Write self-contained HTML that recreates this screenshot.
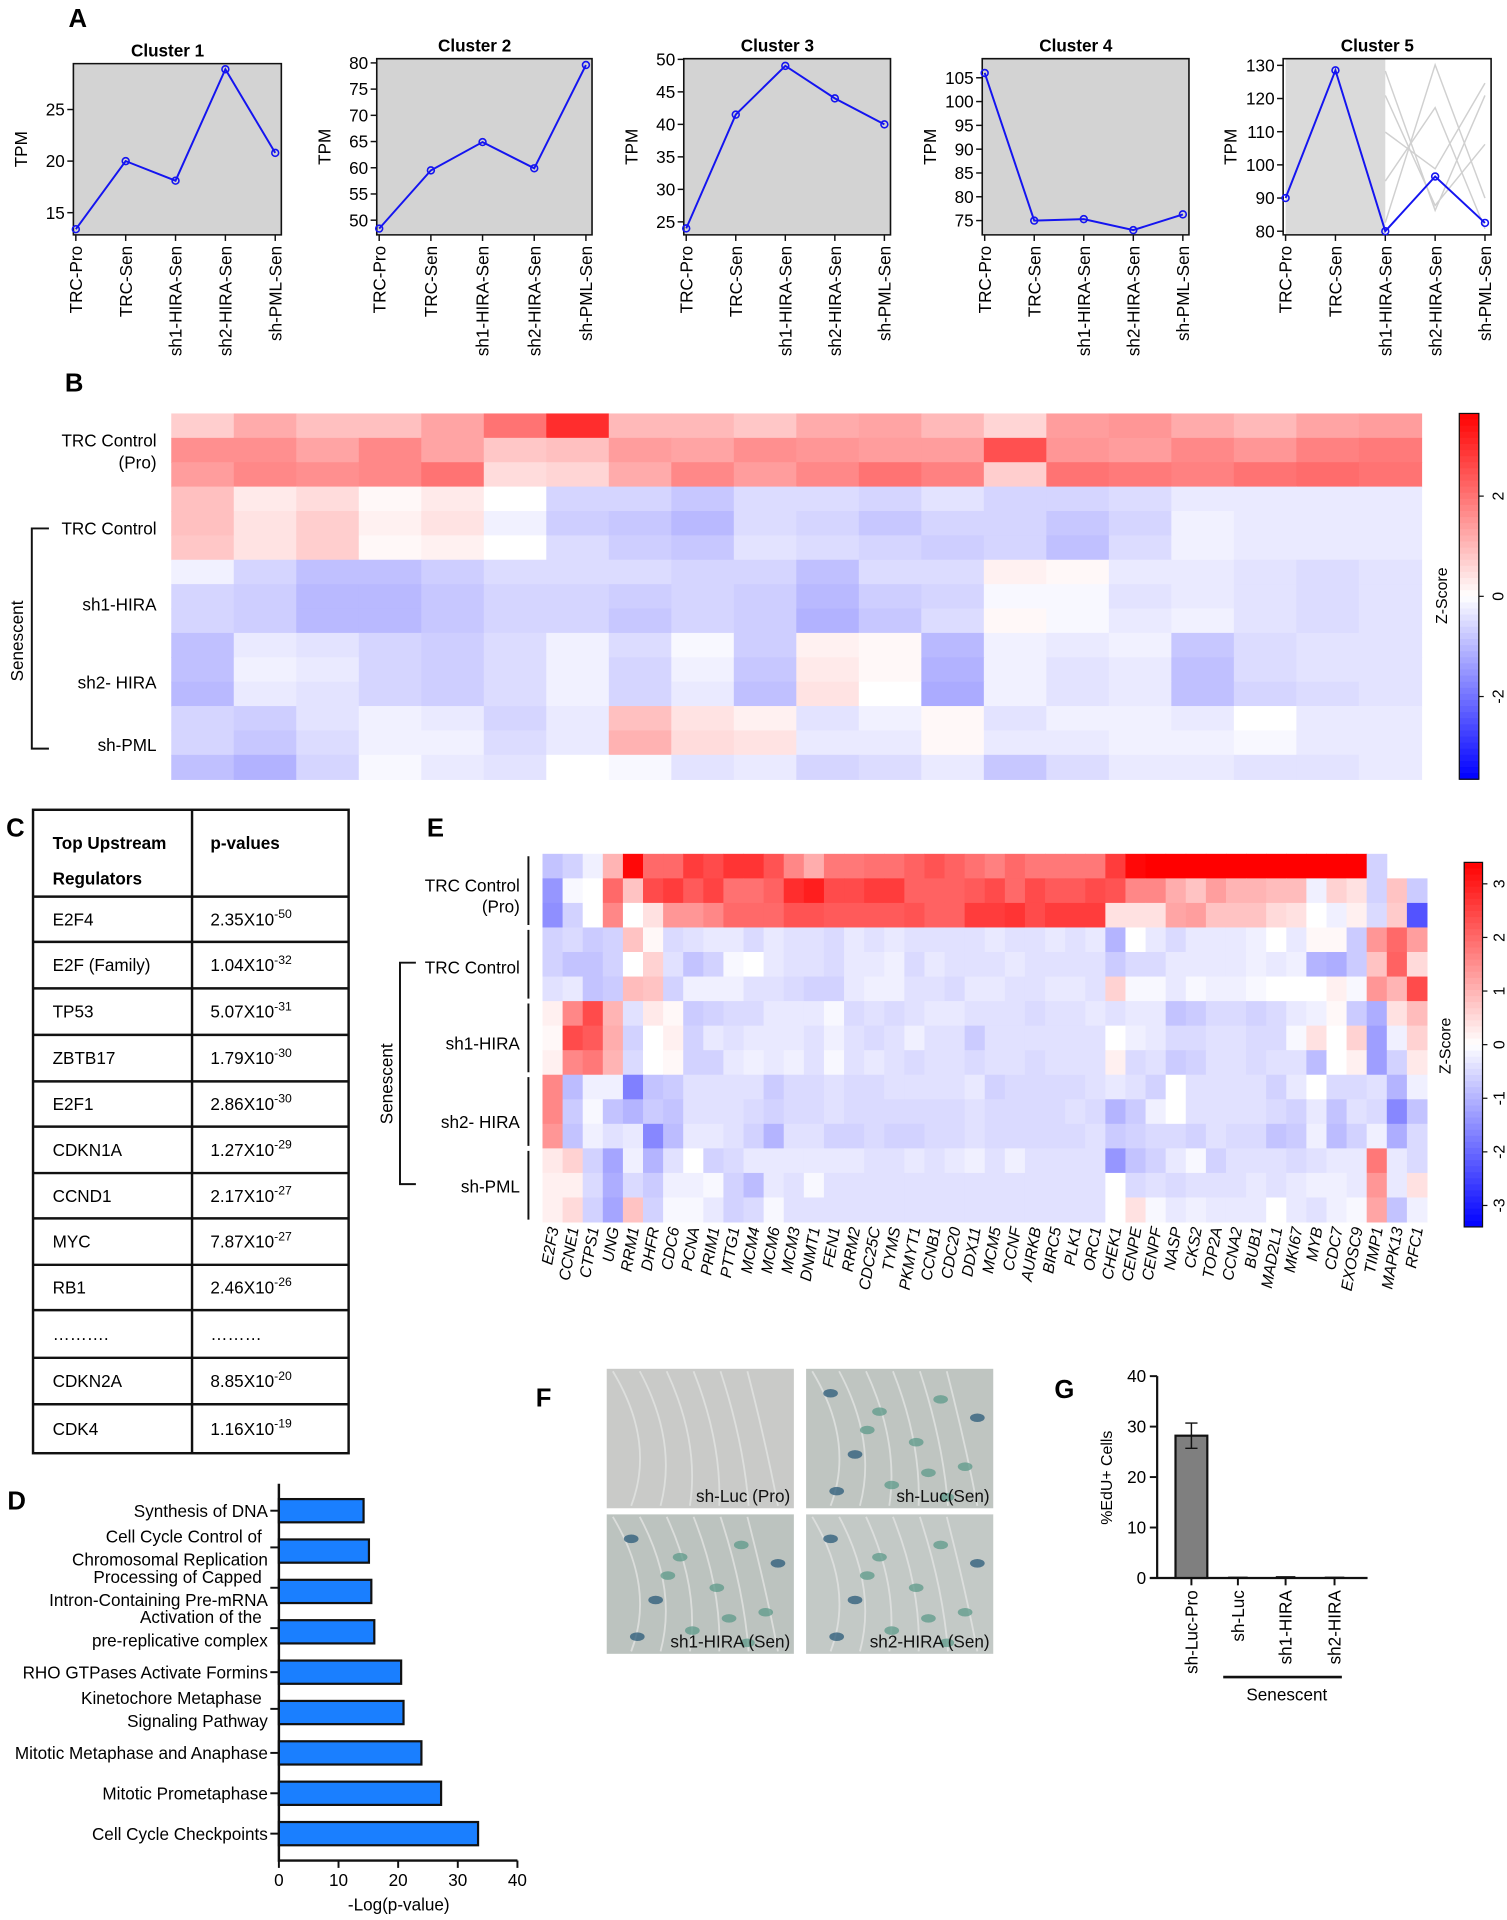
<!DOCTYPE html>
<html><head><meta charset="utf-8"><title>Figure</title>
<style>
html,body{margin:0;padding:0;background:#fff;}
svg{display:block;font-family:"Liberation Sans",Arial,sans-serif;}
.lab{font-weight:bold;font-size:21px;}
</style></head>
<body>
<svg id="fig" xmlns="http://www.w3.org/2000/svg" width="1507" height="1920" viewBox="0 0 1232 1569.6" preserveAspectRatio="none">
<text class="lab" x="56" y="22">A</text>
<text class="lab" x="53" y="320">B</text>
<text class="lab" x="5" y="684">C</text>
<text class="lab" x="349" y="684">E</text>
<text class="lab" x="6" y="1234">D</text>
<text class="lab" x="438" y="1150">F</text>
<text class="lab" x="862" y="1143">G</text>
<g id="gA"></g>
<g id="gB"></g>
<g id="gC"></g>
<g id="gE"></g>
<g id="gD"></g>
<g id="gF"></g>
<g id="gG"></g>
</svg>
<script>
// ---------- DATA ----------
const aCategories = ['TRC-Pro','TRC-Sen','sh1-HIRA-Sen','sh2-HIRA-Sen','sh-PML-Sen'];
const cluster1Values = [13.4, 20.0, 18.1, 28.9, 20.8];
const cluster2Values = [48.4, 59.5, 64.9, 59.9, 79.6];
const cluster3Values = [24.0, 41.5, 49.0, 44.0, 40.0];
const cluster4Values = [106.0, 75.0, 75.3, 73.0, 76.3];
const cluster5Values = [90.0, 128.5, 80.0, 96.5, 82.5];
const cluster1Ticks = [15, 20, 25];
const cluster2Ticks = [50, 55, 60, 65, 70, 75, 80];
const cluster3Ticks = [25, 30, 35, 40, 45, 50];
const cluster4Ticks = [75, 80, 85, 90, 95, 100, 105];
const cluster5Ticks = [80, 90, 100, 110, 120, 130];

const bRowLabels = ['TRC Control (Pro)','TRC Control','sh1-HIRA','sh2- HIRA','sh-PML'];
const heatBValues = [
[0.7,1.2,0.9,0.9,1.3,2.0,3.0,1.0,1.0,0.8,1.2,1.3,1.0,0.6,1.4,1.5,1.2,1.0,1.3,1.4],
[1.6,1.6,1.3,1.7,1.3,0.8,0.9,1.4,1.3,1.6,1.5,1.4,1.4,2.5,1.5,1.4,1.7,1.5,1.8,1.9],
[1.4,1.7,1.6,1.7,2.0,0.5,0.6,1.2,1.7,1.4,1.7,2.0,1.8,0.7,2.0,1.9,1.8,2.0,2.1,2.0],
[0.9,0.3,0.5,0.1,0.3,0.0,-0.6,-0.6,-0.8,-0.5,-0.5,-0.6,-0.4,-0.6,-0.6,-0.5,-0.3,-0.3,-0.3,-0.3],
[0.9,0.4,0.7,0.2,0.4,-0.2,-0.7,-0.8,-1.0,-0.5,-0.6,-0.8,-0.6,-0.6,-0.8,-0.6,-0.2,-0.3,-0.3,-0.3],
[0.8,0.4,0.7,0.1,0.2,0.0,-0.5,-0.7,-0.8,-0.4,-0.5,-0.6,-0.7,-0.6,-0.9,-0.5,-0.2,-0.3,-0.3,-0.3],
[-0.2,-0.6,-0.9,-0.9,-0.7,-0.5,-0.5,-0.5,-0.6,-0.6,-0.9,-0.5,-0.5,0.2,0.1,-0.3,-0.3,-0.4,-0.5,-0.4],
[-0.6,-0.7,-1.0,-1.0,-0.8,-0.6,-0.6,-0.7,-0.6,-0.7,-1.0,-0.7,-0.6,-0.1,-0.1,-0.4,-0.3,-0.4,-0.5,-0.4],
[-0.6,-0.7,-1.0,-1.0,-0.8,-0.6,-0.6,-0.8,-0.6,-0.7,-1.1,-0.8,-0.5,0.1,-0.1,-0.3,-0.2,-0.4,-0.5,-0.4],
[-0.9,-0.3,-0.4,-0.6,-0.7,-0.5,-0.2,-0.5,-0.1,-0.7,0.2,0.1,-1.0,-0.2,-0.3,-0.2,-0.8,-0.5,-0.4,-0.4],
[-0.9,-0.2,-0.3,-0.6,-0.7,-0.5,-0.2,-0.6,-0.2,-0.8,0.3,0.1,-1.1,-0.2,-0.4,-0.3,-0.9,-0.5,-0.4,-0.4],
[-1.0,-0.3,-0.4,-0.6,-0.7,-0.5,-0.2,-0.6,-0.3,-0.9,0.4,0.0,-1.2,-0.2,-0.4,-0.3,-0.9,-0.6,-0.5,-0.4],
[-0.6,-0.7,-0.4,-0.2,-0.3,-0.6,-0.3,0.9,0.4,0.2,-0.4,-0.2,0.1,-0.4,-0.2,-0.2,-0.3,0.0,-0.3,-0.3],
[-0.6,-0.8,-0.5,-0.2,-0.2,-0.5,-0.3,1.1,0.5,0.4,-0.3,-0.3,0.1,-0.3,-0.3,-0.2,-0.2,-0.1,-0.3,-0.3],
[-0.9,-1.1,-0.6,-0.1,-0.3,-0.4,0.0,-0.1,-0.4,-0.3,-0.6,-0.5,-0.3,-0.8,-0.5,-0.3,-0.3,-0.4,-0.4,-0.3]
];
const bColorTicks = [2, 0, -2];

const tableRegulators = ['E2F4','E2F (Family)','TP53','ZBTB17','E2F1','CDKN1A','CCND1','MYC','RB1','……….','CDKN2A','CDK4'];
const tableMantissa = ['2.35','1.04','5.07','1.79','2.86','1.27','2.17','7.87','2.46','………','8.85','1.16'];
const tableExponent = ['-50','-32','-31','-30','-30','-29','-27','-27','-26','','-20','-19'];

const eGenes = ['E2F3','CCNE1','CTPS1','UNG','RRM1','DHFR','CDC6','PCNA','PRIM1','PTTG1','MCM4','MCM6','MCM3','DNMT1','FEN1','RRM2','CDC25C','TYMS','PKMYT1','CCNB1','CDC20','DDX11','MCM5','CCNF','AURKB','BIRC5','PLK1','ORC1','CHEK1','CENPE','CENPF','NASP','CKS2','TOP2A','CCNA2','BUB1','MAD2L1','MKI67','MYB','CDC7','EXOSC9','TIMP1','MAPK13','RFC1'];
const heatEValues = [
[-0.8,-0.6,-0.2,1.0,3.3,2.0,2.0,2.6,2.4,2.7,2.7,2.3,1.6,1.1,1.8,1.8,1.9,1.9,2.1,2.3,2.1,1.9,1.7,2.0,1.8,1.8,1.8,1.8,2.6,3.3,3.5,3.5,3.5,3.5,3.5,3.5,3.5,3.5,3.5,3.5,3.5,-0.6,0,0],
[-1.4,-0.1,0,2.0,0.8,2.4,2.6,2.2,2.5,1.9,1.9,2.1,2.8,3.0,2.4,2.4,2.6,2.6,2.1,2.1,2.1,2.2,2.4,2.0,2.4,2.2,2.2,2.4,2.3,1.6,1.6,1.1,0.8,1.3,1.0,1.0,0.9,0.9,-0.2,0.6,0.4,-0.6,0.8,-0.7],
[-1.5,-0.6,0,1.6,0,0.4,1.4,1.4,1.6,2.0,2.0,2.0,2.3,2.3,2.2,2.2,2.2,2.2,2.3,2.1,2.1,2.6,2.6,2.7,2.4,2.6,2.6,2.6,0.4,0.4,0.4,1.2,1.3,0.8,0.8,0.8,0.5,0.4,0,-0.2,0.2,-0.5,0.7,-2.3],
[-0.6,-0.5,-0.7,-0.6,0.8,0.1,-0.5,-0.4,-0.3,-0.3,-0.5,-0.3,-0.4,-0.4,-0.5,-0.3,-0.4,-0.3,-0.4,-0.4,-0.4,-0.4,-0.3,-0.4,-0.4,-0.3,-0.4,-0.3,-1.0,0,-0.3,-0.5,-0.3,-0.3,-0.3,-0.2,0,-0.3,0.1,0.1,-0.7,1.4,2.0,1.3],
[-0.6,-0.8,-0.8,-0.6,0,0.6,-0.4,-0.8,-0.6,-0.1,0,-0.3,-0.4,-0.4,-0.5,-0.3,-0.3,-0.2,-0.5,-0.3,-0.4,-0.4,-0.4,-0.3,-0.4,-0.4,-0.4,-0.4,-0.7,-0.5,-0.5,-0.3,-0.3,-0.3,-0.3,-0.2,-0.3,-0.2,-1.0,-1.1,-0.7,0.8,2.1,0.5],
[-0.4,-0.3,-0.8,-0.7,0.9,0.8,-0.6,-0.2,-0.2,-0.2,-0.4,-0.4,-0.5,-0.6,-0.6,-0.3,-0.2,-0.2,-0.4,-0.4,-0.5,-0.3,-0.3,-0.4,-0.4,-0.3,-0.3,-0.4,0.6,-0.1,-0.1,-0.3,-0.1,-0.2,-0.2,-0.1,0,0,0,0.2,-0.1,1.4,1.0,2.4],
[0.2,1.6,2.4,1.0,-0.4,0.3,0.1,-0.7,-0.6,-0.5,-0.5,-0.3,-0.3,-0.3,-0.1,-0.5,-0.4,-0.5,-0.4,-0.3,-0.3,-0.4,-0.4,-0.4,-0.5,-0.4,-0.4,-0.3,-0.4,-0.3,-0.3,-0.8,-0.7,-0.5,-0.5,-0.6,-0.5,-0.3,-0.2,0.1,-0.7,-1.1,0.4,0.9],
[0.1,2.4,2.2,1.1,-0.6,0,0.2,-0.6,-0.3,-0.4,-0.3,-0.3,-0.3,-0.4,-0.2,-0.4,-0.5,-0.4,-0.2,-0.4,-0.4,-0.7,-0.4,-0.4,-0.4,-0.4,-0.4,-0.4,0,-0.2,-0.3,-0.5,-0.5,-0.4,-0.4,-0.5,-0.5,-0.1,0.4,0,0.6,-1.3,-0.2,0.6],
[0.2,1.6,1.8,1.0,-0.5,0,0.1,-0.6,-0.6,-0.3,-0.2,-0.3,-0.2,-0.4,-0.1,-0.4,-0.3,-0.4,-0.5,-0.4,-0.4,-0.5,-0.4,-0.4,-0.5,-0.4,-0.4,-0.4,0.2,-0.5,-0.4,-0.7,-0.6,-0.4,-0.4,-0.5,-0.4,-0.4,-0.9,0,0.2,-1.3,-0.6,0.3],
[1.6,-0.9,-0.2,-0.2,-1.7,-0.8,-0.7,-0.4,-0.4,-0.4,-0.4,-0.7,-0.5,-0.5,-0.4,-0.5,-0.5,-0.4,-0.4,-0.4,-0.4,-0.3,-0.6,-0.5,-0.5,-0.5,-0.5,-0.4,-0.3,-0.4,-0.6,0,-0.4,-0.4,-0.4,-0.4,-0.6,-0.3,0,-0.5,-0.5,-0.4,-1.0,-0.2],
[1.6,-0.7,-0.1,-0.8,-1.0,-0.7,-0.8,-0.4,-0.4,-0.4,-0.5,-0.6,-0.5,-0.5,-0.4,-0.5,-0.5,-0.5,-0.5,-0.5,-0.5,-0.4,-0.5,-0.5,-0.5,-0.5,-0.4,-0.5,-1.0,-0.7,-0.2,0,-0.4,-0.4,-0.4,-0.4,-0.5,-0.6,-0.3,-0.8,-0.4,-0.5,-1.6,-0.8],
[1.4,-0.8,-0.2,-0.4,-0.3,-1.6,-0.9,-0.3,-0.3,-0.4,-0.6,-1.0,-0.4,-0.4,-0.6,-0.6,-0.5,-0.6,-0.6,-0.5,-0.5,-0.4,-0.5,-0.5,-0.5,-0.5,-0.5,-0.4,-0.7,-0.6,-0.5,-0.5,-0.6,-0.4,-0.5,-0.5,-0.8,-0.7,-0.2,-0.9,-0.6,-0.2,-1.1,-0.5],
[0.3,0.6,-0.6,-1.2,-0.2,-1.0,-0.4,0,-0.6,-0.5,-0.3,-0.3,-0.3,-0.3,-0.3,-0.3,-0.4,-0.4,-0.3,-0.4,-0.3,-0.2,-0.4,-0.2,-0.4,-0.4,-0.4,-0.4,-1.4,-0.8,-0.6,-0.3,-0.1,-0.6,-0.4,-0.4,-0.4,-0.5,-0.4,-0.3,-0.3,1.8,-0.3,-0.5],
[0.2,0.2,-0.5,-1.1,-0.5,-0.7,-0.2,-0.2,-0.1,-0.6,-0.9,-0.3,-0.4,-0.1,-0.4,-0.4,-0.4,-0.4,-0.4,-0.4,-0.4,-0.4,-0.4,-0.4,-0.4,-0.4,-0.4,-0.4,0,-0.5,-0.4,-0.5,-0.4,-0.4,-0.4,-0.3,-0.4,-0.3,-0.2,-0.2,-0.3,1.4,-0.3,0.4],
[0.2,0.5,-0.6,-1.2,0.8,-0.6,-0.1,-0.1,-0.3,-0.6,-0.5,-0.1,-0.4,-0.4,-0.4,-0.4,-0.4,-0.4,-0.4,-0.4,-0.4,-0.4,-0.4,-0.4,-0.4,-0.4,-0.4,-0.4,0,0.4,-0.1,-0.3,-0.2,-0.3,-0.3,-0.3,0,-0.3,-0.4,-0.2,-0.1,1.2,-0.8,-0.2]
];
const eColorTicks = [3, 2, 1, 0, -1, -2, -3];

const dPathways = [['Synthesis of DNA'],['Cell Cycle Control of','Chromosomal Replication'],['Processing of Capped','Intron-Containing Pre-mRNA'],['Activation of the','pre-replicative complex'],['RHO GTPases Activate Formins'],['Kinetochore Metaphase','Signaling Pathway'],['Mitotic Metaphase and Anaphase'],['Mitotic Prometaphase'],['Cell Cycle Checkpoints']];
const dValues = [14.2, 15.1, 15.5, 16.0, 20.5, 20.9, 23.9, 27.2, 33.4];
const dTicks = [0, 10, 20, 30, 40];

const gCategories = ['sh-Luc-Pro','sh-Luc','sh1-HIRA','sh2-HIRA'];
const gValues = [28.2, 0, 0.1, 0];
const gErrors = [2.5, 0, 0, 0];
const gTicks = [0, 10, 20, 30, 40];

// ---------- HELPERS ----------
const NS = 'http://www.w3.org/2000/svg';
function mk(parent, tag, attrs, txt){
  const e = document.createElementNS(NS, tag);
  for (const k in attrs) e.setAttribute(k, attrs[k]);
  if (txt !== undefined) e.textContent = txt;
  parent.appendChild(e);
  return e;
}
function zColor(z, zmax){
  let t = Math.max(-1, Math.min(1, z / zmax));
  let r, g, b;
  if (t >= 0){ r = 255; g = Math.round(255*(1-t)); b = g; }
  else { b = 255; r = Math.round(255*(1+t)); g = r; }
  return 'rgb('+r+','+g+','+b+')';
}

// ---------- A: cluster panels ----------
(function(){
  const g = document.getElementById('gA');
  const panels = [
    {name:'Cluster 1', vals:cluster1Values, ticks:cluster1Ticks, box:[60,52,230,192], lo:12.85, hi:29.45, bg:'#d3d3d3'},
    {name:'Cluster 2', vals:cluster2Values, ticks:cluster2Ticks, box:[308,48,484,192], lo:47.2, hi:80.8, bg:'#d3d3d3'},
    {name:'Cluster 3', vals:cluster3Values, ticks:cluster3Ticks, box:[559,48,728,192], lo:23.0, hi:50.1, bg:'#d3d3d3'},
    {name:'Cluster 4', vals:cluster4Values, ticks:cluster4Ticks, box:[803,48,972,192], lo:72.0, hi:109.0, bg:'#d3d3d3'},
    {name:'Cluster 5', vals:cluster5Values, ticks:cluster5Ticks, box:[1049,48,1219,192], lo:78.9, hi:132.0, bg:'#ffffff'}
  ];
  panels.forEach((p, pi) => {
    const [x0,y0,x1,y1] = p.box;
    const pg = mk(g,'g',{});
    
    
    const bg = mk(pg,'rect',{x:x0,y:y0,width:x1-x0,height:y1-y0,fill:p.bg});
    
    
    const px = i => x0 + 2 + i*((x1-x0-7)/(aCategories.length-1));
    const py = v => y1 - (v - p.lo)/(p.hi - p.lo)*(y1-y0);
    if (pi === 4){
      const sh = mk(pg,'rect',{x:x0+2,y:y0,width:px(2)-x0-2,height:y1-y0,fill:'#dadada'});
      
      
      const paths = ['M'+px(2)+' '+(y0+10)+' L'+px(3)+' '+(y1-20)+' L'+px(4)+' '+(y0+30),
                     'M'+px(2)+' '+(y1-10)+' L'+px(3)+' '+(y0+5)+' L'+px(4)+' '+(y1-30),
                     'M'+px(2)+' '+(y0+60)+' L'+px(3)+' '+(y0+90)+' L'+px(4)+' '+(y0+20),
                     'M'+px(2)+' '+(y0+100)+' L'+px(3)+' '+(y0+40)+' L'+px(4)+' '+(y1-5),
                     'M'+px(2)+' '+(y0+30)+' L'+px(3)+' '+(y0+120)+' L'+px(4)+' '+(y0+70)];
      paths.forEach(d => {
        const l = mk(pg,'path',{d:d,fill:'none',stroke:'#d0d0d0','stroke-width':1.2});
        
        
      });
    }
    const frame = mk(pg,'path',{d:'M'+x0+' '+y0+' H'+x1+' V'+y1+' H'+x0+' Z',fill:'none',stroke:'#111','stroke-width':1.3});
    
    
    const t = mk(pg,'text',{x:(x0+x1)/2 - 8,y:y0-6,'text-anchor':'middle','font-size':14,'font-weight':'bold'}, p.name);
    
    
    const yl = mk(pg,'text',{transform:'translate('+(x0-38)+','+((y0+y1)/2)+') rotate(-90)','text-anchor':'middle','font-size':14}, 'TPM');
    
    
    p.ticks.forEach(v => {
      const y = py(v);
      const tk = mk(pg,'line',{x1:x0-5,x2:x0,y1:y,y2:y,stroke:'#111','stroke-width':1.2});
      
      
      const tl = mk(pg,'text',{x:x0-7,y:y+5,'text-anchor':'end','font-size':14}, String(v));
      
      
    });
    aCategories.forEach((c, i) => {
      const x = px(i);
      const tk = mk(pg,'line',{x1:x,x2:x,y1:y1,y2:y1+5,stroke:'#111','stroke-width':1.2});
      
      
      const tl = mk(pg,'text',{transform:'translate('+(x+5)+','+(y1+9)+') rotate(-90)','text-anchor':'end','font-size':14}, c);
      
      
    });
    const pts = p.vals.map((v,i) => px(i)+','+py(v)).join(' ');
    const line = mk(pg,'polyline',{points:pts,fill:'none',stroke:'#1414f0','stroke-width':1.6});
    
    
    p.vals.forEach((v,i) => {
      const c = mk(pg,'circle',{cx:px(i),cy:py(v),r:2.8,fill:'none',stroke:'#1414f0','stroke-width':1.3});
      
      
    });
  });
})();

// ---------- B: big heatmap ----------
(function(){
  const g = document.getElementById('gB');
  const x0 = 140, x1 = 1162, y0 = 338, y1 = 637;
  const nR = heatBValues.length, nC = heatBValues[0].length;
  const cw = (x1-x0)/nC, rh = (y1-y0)/nR;
  heatBValues.forEach((row, r) => row.forEach((v, c) => {
    const cell = mk(g,'rect',{x:x0+c*cw,y:y0+r*rh,width:cw+0.6,height:rh+0.6,fill:zColor(v,3.65)});
    
    
  }));
  const labs = [['TRC Control',365],['(Pro)',383],['TRC Control',437],['sh1-HIRA',499],['sh2- HIRA',563],['sh-PML',614]];
  labs.forEach(l => {
    const t = mk(g,'text',{x:128,y:l[1],'text-anchor':'end','font-size':14}, l[0]);
    
    
  });
  const br = mk(g,'path',{d:'M40 432 H26 V612 H40',fill:'none',stroke:'#111','stroke-width':1.6});
  
  
  const sen = mk(g,'text',{transform:'translate(19,524) rotate(-90)','text-anchor':'middle','font-size':14}, 'Senescent');
  
  
  const cb0 = 338, cb1 = 637, cbx = 1193, cbw = 16, zm = 3.65;
  const steps = 60;
  for (let i = 0; i < steps; i++){
    const z = zm - (i+0.5)*(2*zm/steps);
    const s = mk(g,'rect',{x:cbx,y:cb0+i*(cb1-cb0)/steps,width:cbw,height:(cb1-cb0)/steps+0.5,fill:zColor(z,zm)});
    
    
  }
  const fr = mk(g,'rect',{x:cbx,y:cb0,width:cbw,height:cb1-cb0,fill:'none',stroke:'#111','stroke-width':1});
  
  
  bColorTicks.forEach(v => {
    const y = cb0 + (zm - v)/(2*zm)*(cb1-cb0);
    const tk = mk(g,'line',{x1:cbx+cbw,x2:cbx+cbw+4,y1:y,y2:y,stroke:'#111'});
    
    
    const tl = mk(g,'text',{transform:'translate('+(cbx+cbw+20)+','+y+') rotate(-90)','text-anchor':'middle','font-size':13}, String(v));
    
    
  });
  const zt = mk(g,'text',{transform:'translate(1183,487) rotate(-90)','text-anchor':'middle','font-size':13}, 'Z-Score');
  
  
})();

// ---------- C: table ----------
(function(){
  const g = document.getElementById('gC');
  const x0 = 27, xm = 157, x1 = 285;
  const ys = [662,733,770,808,846,884,921,959,996,1034,1071,1110,1148,1188];
  const fr = mk(g,'rect',{x:x0,y:ys[0],width:x1-x0,height:ys[ys.length-1]-ys[0],fill:'none',stroke:'#111','stroke-width':2});
  
  
  const vl = mk(g,'line',{x1:xm,x2:xm,y1:ys[0],y2:ys[ys.length-1],stroke:'#111','stroke-width':2});
  
  
  ys.slice(1,-1).forEach(y => {
    const l = mk(g,'line',{x1:x0,x2:x1,y1:y,y2:y,stroke:'#111','stroke-width':2});
    
    
  });
  const h1 = mk(g,'text',{x:43,y:694,'font-size':14,'font-weight':'bold'}, 'Top Upstream');
  
  
  const h2 = mk(g,'text',{x:43,y:723,'font-size':14,'font-weight':'bold'}, 'Regulators');
  
  
  const h3 = mk(g,'text',{x:172,y:694,'font-size':14,'font-weight':'bold'}, 'p-values');
  
  
  tableRegulators.forEach((r, i) => {
    const yc = (ys[i+1] + ys[i+2])/2 + 5;
    const a = mk(g,'text',{x:43,y:yc,'font-size':14}, r);
    
    
    const b = mk(g,'text',{x:172,y:yc,'font-size':14}, tableExponent[i] ? tableMantissa[i] + 'X10' : tableMantissa[i]);
    
    
    if (tableExponent[i]){
      const s = mk(b,'tspan',{dy:-6,'font-size':10}, tableExponent[i]);
      
      
    }
  });
})();

// ---------- E: gene heatmap ----------
(function(){
  const g = document.getElementById('gE');
  const x0 = 443.5, x1 = 1166.6, y0 = 698, y1 = 999;
  const nR = heatEValues.length, nC = eGenes.length;
  const cw = (x1-x0)/nC, rh = (y1-y0)/nR;
  heatEValues.forEach((row, r) => row.forEach((v, c) => {
    if (r === 0 && c >= nC-2) return;
    const cell = mk(g,'rect',{x:x0+c*cw,y:y0+r*rh,width:cw+0.4,height:rh+0.4,fill:zColor(v,3.4)});
    
    
  }));
  eGenes.forEach((gn, c) => {
    const x = x0 + (c+0.5)*cw;
    const t = mk(g,'text',{transform:'translate('+(x+5)+','+(y1+5)+') rotate(-80)','text-anchor':'end','font-size':13,'font-style':'italic'}, gn);
    
    
  });
  for (let k = 0; k < 5; k++){
    const l = mk(g,'line',{x1:432,x2:432,y1:y0+k*3*rh+2,y2:y0+(k+1)*3*rh-2,stroke:'#111','stroke-width':1.6});
    
    
  }
  const labs = [['TRC Control',729],['(Pro)',746],['TRC Control',796],['sh1-HIRA',858],['sh2- HIRA',922],['sh-PML',975]];
  labs.forEach(l => {
    const t = mk(g,'text',{x:425,y:l[1],'text-anchor':'end','font-size':14}, l[0]);
    
    
  });
  const br = mk(g,'path',{d:'M340 787 H327 V968 H340',fill:'none',stroke:'#111','stroke-width':1.6});
  
  
  const sen = mk(g,'text',{transform:'translate(321,886) rotate(-90)','text-anchor':'middle','font-size':14}, 'Senescent');
  
  
  const cb0 = 705, cb1 = 1003, cbx = 1197, cbw = 15, zm = 3.4;
  const steps = 60;
  for (let i = 0; i < steps; i++){
    const z = zm - (i+0.5)*(2*zm/steps);
    const s = mk(g,'rect',{x:cbx,y:cb0+i*(cb1-cb0)/steps,width:cbw,height:(cb1-cb0)/steps+0.5,fill:zColor(z,zm)});
    
    
  }
  const fr = mk(g,'rect',{x:cbx,y:cb0,width:cbw,height:cb1-cb0,fill:'none',stroke:'#111','stroke-width':1});
  
  
  eColorTicks.forEach(v => {
    const y = cb0 + (zm - v)/(2*zm)*(cb1-cb0);
    const tk = mk(g,'line',{x1:cbx+cbw,x2:cbx+cbw+4,y1:y,y2:y,stroke:'#111'});
    
    
    const tl = mk(g,'text',{transform:'translate('+(cbx+cbw+18)+','+y+') rotate(-90)','text-anchor':'middle','font-size':13}, String(v));
    
    
  });
  const zt = mk(g,'text',{transform:'translate(1186,855) rotate(-90)','text-anchor':'middle','font-size':13}, 'Z-Score');
  
  
})();

// ---------- D: bar chart ----------
(function(){
  const g = document.getElementById('gD');
  const ax0 = 228, axMax = 40, axW = 195, top = 1213, base = 1521;
  const xs = v => ax0 + v/axMax*axW;
  const rowY = i => 1235 + i*((1499-1235)/(dValues.length-1));
  const ax = mk(g,'path',{d:'M'+ax0+' '+top+' V'+base+' H'+xs(axMax),fill:'none',stroke:'#111','stroke-width':2});
  
  
  dValues.forEach((v, i) => {
    const yc = rowY(i);
    const b = mk(g,'rect',{x:ax0,y:yc-9.5,width:xs(v)-ax0,height:19,fill:'#1a7fff',stroke:'#111','stroke-width':1.8});
    
    
    const lines = dPathways[i];
    const ty = lines.length > 1 ? yc - 3 : yc;
    const tk = mk(g,'line',{x1:ax0-7,x2:ax0,y1:ty,y2:ty,stroke:'#111','stroke-width':1.6});
    
    
    lines.forEach((ln, k) => {
      const yy = lines.length > 1 ? yc - 7 + k*19 : yc + 5;
      const t = mk(g,'text',{x: lines.length>1 && k===0 ? 214 : 219, y:yy,'text-anchor':'end','font-size':14}, ln);
      
      
    });
  });
  dTicks.forEach(v => {
    const x = xs(v);
    const tk = mk(g,'line',{x1:x,x2:x,y1:base,y2:base+6,stroke:'#111','stroke-width':1.6});
    
    
    const tl = mk(g,'text',{x:x,y:base+21,'text-anchor':'middle','font-size':14}, String(v));
    
    
  });
  const xt = mk(g,'text',{x:326,y:1562,'text-anchor':'middle','font-size':14}, '-Log(p-value)');
  
  
})();

// ---------- F: images ----------
(function(){
  const g = document.getElementById('gF');
  const imgs = [
    {x:496,y:1119,label:'sh-Luc (Pro)',bg:'#c9cac8',stain:false},
    {x:659,y:1119,label:'sh-Luc(Sen)',bg:'#bfc5c1',stain:true},
    {x:496,y:1238,label:'sh1-HIRA (Sen)',bg:'#bcc3bf',stain:true},
    {x:659,y:1238,label:'sh2-HIRA (Sen)',bg:'#c3c9c6',stain:true}
  ];
  const spots = [[20,20],[60,35],[110,25],[40,70],[90,60],[130,80],[25,100],[70,95],[115,105],[140,40],[50,50],[100,85]];
  imgs.forEach((im, k) => {
    const sg = mk(g,'g',{});
    
    
    const r = mk(sg,'rect',{x:im.x,y:im.y,width:153,height:114,fill:im.bg});
    
    
    for (let j = 0; j < 6; j++){
      const l = mk(sg,'path',{d:'M'+(im.x+5+j*22)+' '+(im.y+2)+' Q'+(im.x+40+j*18)+' '+(im.y+60)+' '+(im.x+20+j*24)+' '+(im.y+112),fill:'none',stroke:'#e2e4e2','stroke-width':1.5,opacity:0.8});
      
      
    }
    if (im.stain){
      spots.forEach((s, j) => {
        const e = mk(sg,'ellipse',{cx:im.x+s[0],cy:im.y+s[1],rx:6,ry:3.5,fill: j%3===0 ? '#2a5a78' : '#5e9a8a',opacity:0.75});
        
        
      });
    }
    const t = mk(sg,'text',{x:im.x+150,y:im.y+109,'text-anchor':'end','font-size':14,fill:'#111'}, im.label);
    
    
  });
})();

// ---------- G: EdU bar chart ----------
(function(){
  const g = document.getElementById('gG');
  const ax = 946, y0 = 1290, y40 = 1125, xEnd = 1118;
  const ys = v => y0 - v/40*(y0-y40);
  const xsC = [974, 1012, 1051, 1091];
  const axes = mk(g,'path',{d:'M'+ax+' '+y40+' V'+y0+' M'+(ax-6)+' '+y0+' H'+xEnd,fill:'none',stroke:'#111','stroke-width':1.8});
  
  
  gTicks.forEach(v => {
    const y = ys(v);
    const tk = mk(g,'line',{x1:ax-6,x2:ax,y1:y,y2:y,stroke:'#111','stroke-width':1.6});
    
    
    const tl = mk(g,'text',{x:ax-9,y:y+5,'text-anchor':'end','font-size':14}, String(v));
    
    
  });
  const yt = mk(g,'text',{transform:'translate(909,1208) rotate(-90)','text-anchor':'middle','font-size':13}, '%EdU+ Cells');
  
  
  gCategories.forEach((c, i) => {
    const x = xsC[i];
    if (gValues[i] > 0.5){
      const b = mk(g,'rect',{x:x-13,y:ys(gValues[i]),width:26,height:y0-ys(gValues[i]),fill:'#7f7f7f',stroke:'#111','stroke-width':1.8});
      
      
    } else {
      const b = mk(g,'line',{x1:x-8,x2:x+8,y1:ys(gValues[i])-0.5,y2:ys(gValues[i])-0.5,stroke:'#111','stroke-width':1.2});
      
      
    }
    if (gErrors[i] > 0){
      const e = mk(g,'path',{d:'M'+(x-5)+' '+ys(gValues[i]+gErrors[i])+' H'+(x+5)+' M'+x+' '+ys(gValues[i]+gErrors[i])+' V'+ys(gValues[i]-gErrors[i])+' M'+(x-5)+' '+ys(gValues[i]-gErrors[i])+' H'+(x+5),fill:'none',stroke:'#111','stroke-width':1.2});
      
      
    }
    const tk = mk(g,'line',{x1:x,x2:x,y1:y0,y2:y0+6,stroke:'#111','stroke-width':1.6});
    
    
    const tl = mk(g,'text',{transform:'translate('+(x+5)+','+(y0+10)+') rotate(-90)','text-anchor':'end','font-size':14}, c);
    
    
  });
  const sl = mk(g,'line',{x1:1000,x2:1097,y1:1371,y2:1371,stroke:'#111','stroke-width':2.2});
  
  
  const st = mk(g,'text',{x:1052,y:1390,'text-anchor':'middle','font-size':14}, 'Senescent');
  
  
})();
</script>
</body></html>
